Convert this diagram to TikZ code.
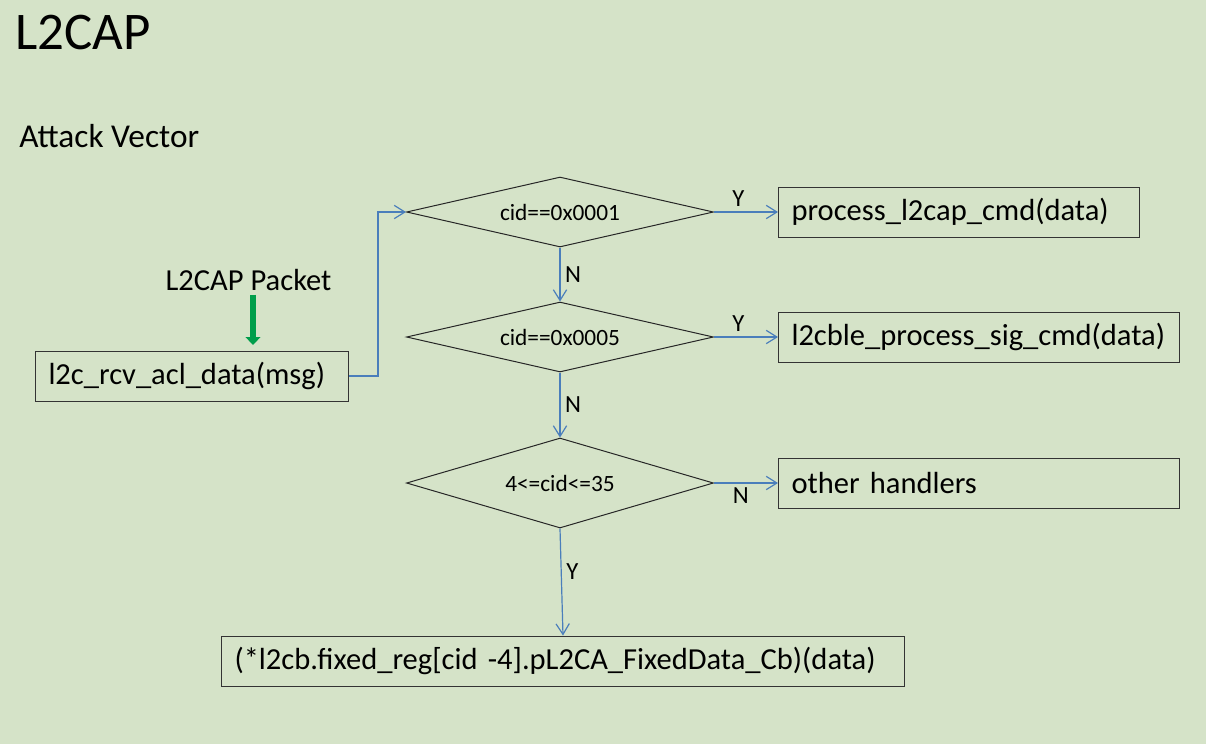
\documentclass[tikz,border=0pt]{standalone}
\usepackage{fontspec}
\setmainfont{Carlito}
\usetikzlibrary{shapes.geometric,arrows.meta}
\definecolor{slidebg}{RGB}{213,227,200}
\definecolor{flowblue}{RGB}{74,126,187}
\definecolor{pktgreen}{RGB}{0,158,75}

\begin{document}
\begin{tikzpicture}[x=0.75pt,y=-0.75pt,
    box/.style={draw=black!80, line width=0.75pt, minimum height=37.5pt, inner xsep=9.75pt,
      align=left, anchor=west, font=\fontsize{22.9}{26}\selectfont},
    test/.style={diamond, draw=black!85, line width=0.75pt, minimum width=230.25pt,
      minimum height=52.5pt, inner sep=0pt, aspect=4.4, font=\fontsize{17.5}{20}\selectfont},
    flow/.style={draw=flowblue, line width=0.9pt, -{Straight Barb[length=8pt,width=10pt]}},
    lbl/.style={font=\fontsize{18.5}{21}\selectfont}]
    \fill[slidebg] (0,0) rectangle (1206,744);
    \useasboundingbox (0,0) rectangle (1206,744);

    % headings
    \node[anchor=base west, inner sep=0pt, font=\fontsize{39.7}{44}\selectfont] (title) at (15,49) {L2CAP};
    \node[anchor=base west, inner sep=0pt, font=\fontsize{25}{30}\selectfont] (sub) at (19,147) {Attack Vector};

    % entry point
    \node[anchor=base, inner sep=3pt, font=\fontsize{22.9}{26}\selectfont] (pkt) at (248.5,290) {L2CAP Packet};
    \node[box, text width=215.25pt] (rcv) at (35,376) {l2c\_rcv\_acl\_data(msg)};
    \coordinate (pktin) at (253,345);
    \draw[pktgreen, line width=4.5pt, -{Triangle[length=6pt,width=11pt]}] (pkt.south -| pktin) -- (pktin);

    % decisions
    \node[test] (d1) at (560,212) {cid==0x0001};
    \node[test] (d2) at (560,337) {cid==0x0005};
    \node[test, minimum height=67.5pt] (d3) at (560,483) {4<=cid<=35};

    % handlers
    \node[box, text width=251.25pt] (proc) at (778,212) {process\_l2cap\_cmd(data)};
    \node[box, text width=281.25pt] (sig) at (778,337) {l2cble\_process\_sig\_cmd(data)};
    \node[box, text width=281.25pt] (other) at (778,483) {other handlers};
    \node[box, text width=492.75pt] (fixed) at (221,661) {(*l2cb.fixed\_reg[cid -4].pL2CA\_FixedData\_Cb)(data)};

    % connectors
    \draw[flow] (rcv.east) -- ++(29,0) |- (d1.west);
    \draw[flow] (d1.east) -- node[lbl, pos=0.38, above] {Y} (proc.west);
    \draw[flow] (d1.south) -- node[lbl, right] {N} (d2.north);
    \draw[flow] (d2.east) -- node[lbl, pos=0.38, above] {Y} (sig.west);
    \draw[flow] (d2.south) -- node[lbl, right] {N} (d3.north);
    \draw[flow] (d3.east) -- node[lbl, pos=0.42, below] {N} (other.west);
    \draw[flow] (d3.south) -- node[lbl, pos=0.4, right] {Y} (fixed.north);
\end{tikzpicture}
\end{document}
